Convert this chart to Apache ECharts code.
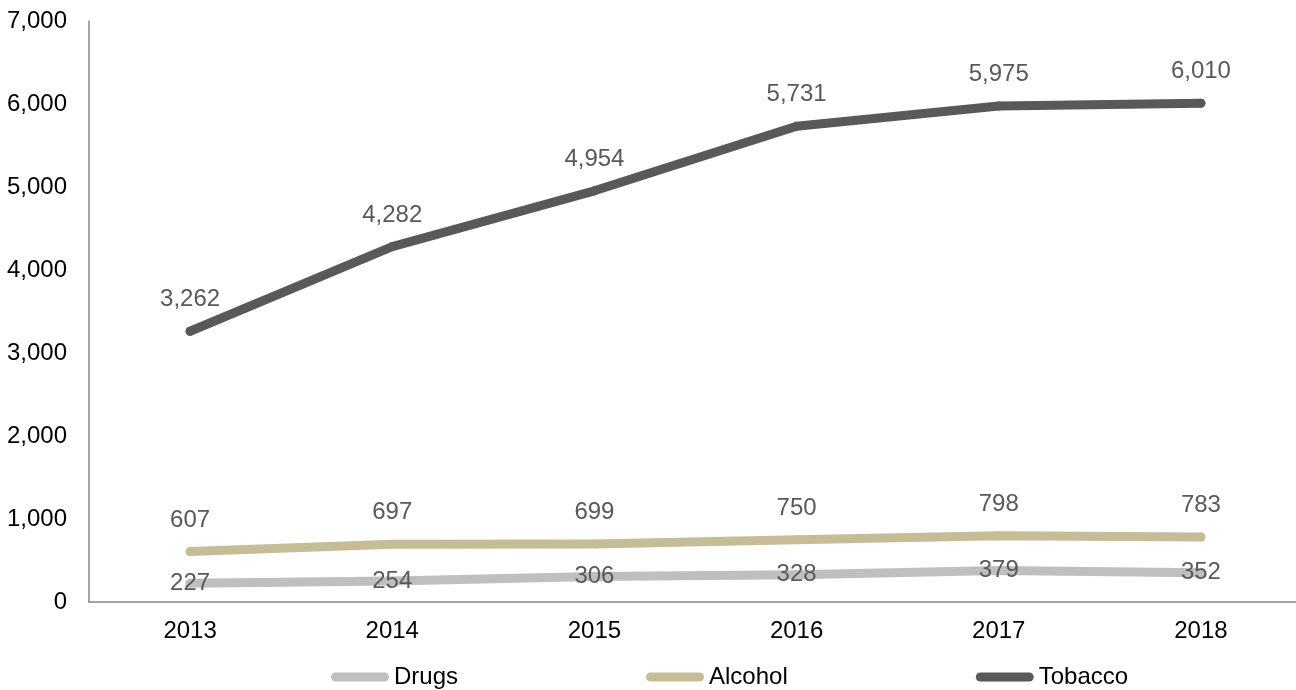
<!DOCTYPE html>
<html>
<head>
<meta charset="utf-8">
<script src="https://cdn.jsdelivr.net/npm/echarts@6/dist/echarts.min.js"></script>
<style>
html,body{margin:0;padding:0;background:#fff;}
#chart{width:1296px;height:690px;}
</style>
</head>
<body>
<div id="chart"></div>
<script>
var categories = ['2013', '2014', '2015', '2016', '2017', '2018'];
var drugs = [227, 254, 306, 328, 379, 352];
var alcohol = [607, 697, 699, 750, 798, 783];
var tobacco = [3262, 4282, 4954, 5731, 5975, 6010];
var seriesNames = ['Drugs', 'Alcohol', 'Tobacco'];
var colors = ['#BFBFBF', '#C4BD97', '#595959'];

var FONT = '"Liberation Sans", Arial, sans-serif';
function fmt(v) { return Number(v).toLocaleString('en-US'); }

function makeSeries(name, data, color, pos) {
  return {
    name: name,
    type: 'line',
    data: data,
    symbol: 'circle',
    symbolSize: 9,
    itemStyle: { color: color },
    lineStyle: { color: color, width: 9, cap: 'round', join: 'round' },
    label: {
      show: true,
      position: pos,
      distance: 15,
      color: '#595959',
      fontSize: 24,
      fontFamily: FONT,
      formatter: function (p) { return fmt(p.value); }
    },
    emphasis: { disabled: true },
    animation: false
  };
}

var chart = echarts.init(document.getElementById('chart'), null, { renderer: 'canvas' });
chart.setOption({
  backgroundColor: '#fff',
  animation: false,
  grid: { left: 89, right: -6, top: 21, bottom: 88, containLabel: false, outerBoundsMode: 'none' },
  legend: {
    data: seriesNames,
    left: 326,
    top: 660,
    itemWidth: 58,
    itemHeight: 9,
    itemGap: 188,
    icon: 'path://M4.5,0 L53.5,0 A4.5,4.5 0 0 1 53.5,9 L4.5,9 A4.5,4.5 0 0 1 4.5,0 Z',
    textStyle: { fontSize: 24, color: '#000', fontFamily: FONT }
  },
  xAxis: {
    type: 'category',
    data: categories,
    boundaryGap: true,
    axisLine: { show: true, lineStyle: { color: '#868686', width: 1.5 } },
    axisTick: { show: false },
    axisLabel: { color: '#000', fontSize: 24, fontFamily: FONT, margin: 17 },
    splitLine: { show: false }
  },
  yAxis: {
    type: 'value',
    min: 0,
    max: 7000,
    interval: 1000,
    axisLine: { show: true, lineStyle: { color: '#868686', width: 1.5 } },
    axisTick: { show: false },
    axisLabel: { color: '#000', fontSize: 24, fontFamily: FONT, margin: 22, formatter: fmt },
    splitLine: { show: false }
  },
  series: [
    makeSeries(seriesNames[0], drugs, colors[0], 'inside'),
    makeSeries(seriesNames[1], alcohol, colors[1], 'top'),
    makeSeries(seriesNames[2], tobacco, colors[2], 'top')
  ]
});
</script>
</body>
</html>
